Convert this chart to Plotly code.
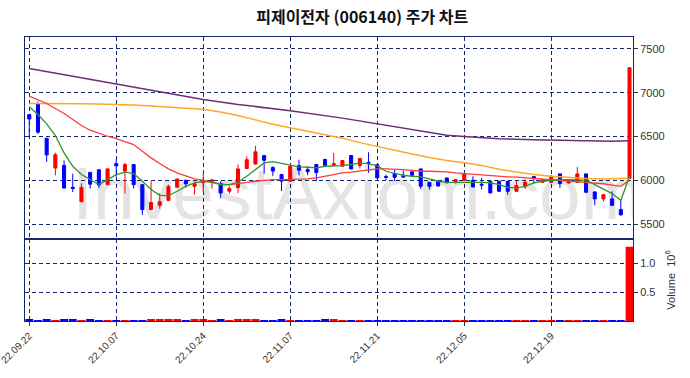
import plotly.graph_objects as go

# ---------------- data ----------------
tick_idx = [0, 10, 20, 30, 40, 50, 60]
tick_labels = ["22.09.22", "22.10.07", "22.10.24", "22.11.07", "22.11.21", "22.12.05", "22.12.19"]

opens = [6750, 6875, 6480, 6140, 6170, 5920, 5755, 6090, 6120, 5950,
         6190, 6105, 6180, 5950, 5665, 5715, 5770, 5920, 6000, 5930,
         5970, 5975, 5965, 5875, 5915, 6135, 6185, 6283, 6145, 6065,
         5990, 6168, 6122, 6180, 6237, 6170, 6160, 6283, 6168, 6205,
         6180, 6042, 6077, 6057, 6096, 6130, 5977, 5989, 6027, 5972,
         6000, 6000, 5955, 5989, 5989, 5989, 5874, 5924, 6042, 5977,
         5977, 6073, 5970, 5977, 6073, 5867, 5787, 5787, 5665, 6020]
highs = [6755, 6900, 6480, 6315, 6228, 6075, 5965, 6090, 6125, 6135,
         6240, 6200, 6180, 5950, 5990, 5850, 5950, 6020, 6005, 5985,
         6085, 6010, 5990, 5930, 6180, 6275, 6395, 6285, 6160, 6065,
         6165, 6235, 6160, 6180, 6245, 6313, 6230, 6285, 6255, 6320,
         6185, 6065, 6120, 6110, 6100, 6130, 5980, 5995, 6030, 6012,
         6080, 6046, 6027, 5995, 5995, 5992, 5990, 6010, 6046, 6015,
         6060, 6080, 6005, 6153, 6075, 5870, 5840, 5874, 5770, 7290]
lows = [6497, 6530, 6210, 6055, 5905, 5865, 5750, 5905, 5910, 5945,
        6040, 5850, 5905, 5605, 5660, 5675, 5765, 5915, 5915, 5835,
        5865, 5905, 5795, 5845, 5855, 6130, 6180, 6075, 6050, 5878,
        5985, 6057, 6057, 5990, 6150, 6165, 6155, 6125, 6135, 6085,
        6020, 6000, 5990, 6030, 6050, 5900, 5894, 5925, 5965, 5965,
        5995, 5920, 5894, 5850, 5870, 5836, 5870, 5900, 5962, 5970,
        5965, 5913, 5962, 5970, 5855, 5714, 5760, 5705, 5600, 6015]
closes = [6700, 6550, 6290, 6292, 5912, 5907, 5918, 5955, 5945, 6130,
          6165, 6180, 5950, 5665, 5745, 5755, 5930, 6015, 5960, 5960,
          6000, 6005, 5855, 5905, 6130, 6235, 6325, 6228, 6105, 5990,
          6160, 6115, 6098, 6088, 6170, 6190, 6225, 6130, 6248, 6195,
          6027, 6035, 6034, 6036, 6057, 5931, 5931, 5935, 5972, 6008,
          6077, 5924, 5945, 5856, 5874, 5874, 5940, 5977, 6023, 6008,
          6046, 5962, 5995, 6073, 5863, 5787, 5836, 5714, 5604, 7285]
volume_m = [0.035, 0.015, 0.030, 0.015, 0.035, 0.035, 0.015, 0.030, 0.012, 0.012,
            0.010, 0.012, 0.010, 0.012, 0.035, 0.020, 0.020, 0.020, 0.008, 0.020,
            0.030, 0.015, 0.035, 0.015, 0.035, 0.035, 0.020, 0.012, 0.012, 0.035,
            0.015, 0.012, 0.012, 0.012, 0.030, 0.030, 0.015, 0.012, 0.015, 0.010,
            0.012, 0.010, 0.010, 0.010, 0.010, 0.012, 0.010, 0.010, 0.010, 0.010,
            0.015, 0.012, 0.010, 0.012, 0.010, 0.012, 0.015, 0.012, 0.010, 0.012,
            0.015, 0.012, 0.012, 0.015, 0.012, 0.012, 0.015, 0.010, 0.012, 1.280]

ma5 = [6840, 6752, 6645, 6511, 6313, 6160, 6065, 6008, 5951, 6008,
       6065, 6092, 6077, 5989, 5894, 5828, 5825, 5874, 5931, 5970,
       5989, 5977, 5951, 5951, 5980, 6046, 6122, 6199, 6214, 6191,
       6168, 6153, 6149, 6142, 6160, 6160, 6168, 6180, 6199, 6188,
       6168, 6103, 6077, 6057, 6046, 6039, 6016, 5989, 5977, 5977,
       5985, 5977, 5977, 5970, 5951, 5920, 5913, 5931, 5970, 5989,
       6000, 6008, 6008, 6008, 6000, 5951, 5902, 5848, 5771, 6046]
ma20 = [6961, 6923, 6877, 6820, 6763, 6694, 6626, 6572, 6534, 6503,
        6477, 6446, 6408, 6332, 6256, 6191, 6130, 6085, 6046, 6016,
        6000, 5977, 5959, 5947, 5966, 5977, 5989, 6000, 6008, 6008,
        6008, 6008, 6016, 6027, 6046, 6065, 6085, 6092, 6103, 6122,
        6130, 6130, 6130, 6122, 6114, 6103, 6103, 6103, 6096, 6085,
        6077, 6065, 6057, 6054, 6046, 6039, 6035, 6027, 6019, 6016,
        6008, 6000, 5989, 5985, 5977, 5970, 5960, 5945, 5930, 6000]
ma60_idx = [0, 2, 4, 6, 8, 10, 12, 14, 16, 18, 20, 22, 24, 26, 28, 30, 32, 34,
            36, 38, 40, 42, 44, 46, 48, 50, 52, 54, 56, 58, 60, 62, 64, 66, 68, 69]
ma60 = [6877, 6878, 6877, 6875, 6872, 6868, 6860, 6850, 6838, 6825, 6812, 6780,
        6740, 6690, 6640, 6599, 6560, 6520, 6480, 6430, 6385, 6340, 6300, 6260,
        6225, 6200, 6170, 6125, 6095, 6065, 6046, 6030, 6020, 6015, 6018, 6022]
ma120_idx = [0, 5, 10, 15, 20, 24, 30, 36, 40, 45, 48, 50, 54, 58, 60, 64, 67, 69]
ma120 = [7278, 7190, 7103, 7010, 6923, 6866, 6795, 6710, 6645, 6570, 6515, 6500,
         6474, 6462, 6458, 6452, 6446, 6452]

# ---------------- figure ----------------
idx = list(range(len(closes)))
NAVY = "#14286e"
RED = "#ff0000"
BLUE = "#0000ff"
vol_colors = [RED if c >= o else BLUE for o, c in zip(opens, closes)]

fig = go.Figure()

fig.add_trace(go.Candlestick(
    x=idx, open=opens, high=highs, low=lows, close=closes,
    xaxis="x2", yaxis="y2",
    increasing=dict(line=dict(color=RED, width=1), fillcolor=RED),
    decreasing=dict(line=dict(color=BLUE, width=1), fillcolor=BLUE),
    whiskerwidth=0, showlegend=False,
))
fig.add_trace(go.Scatter(x=ma120_idx, y=ma120, mode="lines", xaxis="x2", yaxis="y2",
                         line=dict(color="#6e2d6e", width=1.5), showlegend=False))
fig.add_trace(go.Scatter(x=ma60_idx, y=ma60, mode="lines", xaxis="x2", yaxis="y2",
                         line=dict(color="#ffa726", width=1.5), showlegend=False))
fig.add_trace(go.Scatter(x=idx, y=ma20, mode="lines", xaxis="x2", yaxis="y2",
                         line=dict(color="#ff3a3a", width=1.3), showlegend=False))
fig.add_trace(go.Scatter(x=idx, y=ma5, mode="lines", xaxis="x2", yaxis="y2",
                         line=dict(color="#2e962e", width=1.3), showlegend=False))

fig.add_trace(go.Bar(x=idx, y=volume_m, marker=dict(color=vol_colors, line=dict(width=0)),
                     width=0.9, xaxis="x", yaxis="y", showlegend=False))

split = (321 - 239) / (321 - 37)
grid = dict(showgrid=True, gridcolor=NAVY, gridwidth=1, griddash="4px,3px")
tickfont = dict(family="Liberation Sans, Arial, sans-serif", size=11, color="#333333")

fig.update_layout(
    width=690, height=378,
    margin=dict(l=25, r=57, t=37, b=57, autoexpand=False),
    paper_bgcolor="white", plot_bgcolor="white",
    boxgap=0.5,
    bargap=0.1,
    title=dict(text="피제이전자 (006140) 주가 차트",
               font=dict(family="Noto Sans CJK KR", size=16, color="#111111", weight="bold"),
               x=0.525, xref="container", xanchor="center",
               y=1 - 17 / 378, yref="container", yanchor="middle"),
    xaxis=dict(domain=[0, 1], anchor="y", range=[-0.49, 69.4], automargin=False,
               tickmode="array", tickvals=tick_idx, ticktext=tick_labels,
               tickangle=-45, ticklabeloverflow="allow",
               tickfont=dict(family="Liberation Sans, Arial, sans-serif", size=10, color="#333333"),
               ticks="outside", ticklen=4, tickcolor="#333333",
               showline=True, linecolor=NAVY, linewidth=1, mirror=True,
               rangeslider=dict(visible=False), zeroline=False, **grid),
    xaxis2=dict(matches="x", anchor="y2", range=[-0.49, 69.4], automargin=False,
                tickmode="array", tickvals=tick_idx, showticklabels=False, ticks="",
                showline=True, linecolor=NAVY, linewidth=1, mirror=True,
                rangeslider=dict(visible=False), zeroline=False, **grid),
    yaxis=dict(domain=[0, split], anchor="x", side="right", range=[0, 1.414], automargin=False,
               tickmode="array", tickvals=[0.5, 1.0], ticktext=["0.5", "1.0"],
               tickfont=tickfont, ticks="outside", ticklen=4, tickcolor="#333333",
               showline=True, linecolor=NAVY, linewidth=1, mirror=True, zeroline=False,
               title=dict(text="Volume  10<sup>6</sup>", standoff=12,
                          font=dict(family="Liberation Sans, Arial, sans-serif", size=11, color="#333333")),
               **grid),
    yaxis2=dict(domain=[split, 1], anchor="x2", side="right", range=[5329, 7637], automargin=False,
                tickmode="array", tickvals=[5500, 6000, 6500, 7000, 7500],
                tickfont=tickfont, ticks="outside", ticklen=4, tickcolor="#333333",
                showline=True, linecolor=NAVY, linewidth=1, mirror=True, zeroline=False,
                **grid),
    shapes=[dict(type="rect", xref="x2", yref="y2", x0=6, x1=69.5, y0=5540, y1=6340,
                 line=dict(width=0), fillcolor="rgba(0,0,0,0)", layer="below",
                 label=dict(text="InvestAxiom.com", textposition="middle center",
                            font=dict(family="Liberation Sans, Arial, sans-serif", size=75,
                                      color="#e4e4e4")))],
)

fig.write_html("out.html", config={"displayModeBar": False},
               post_script="document.body.style.margin='0';")
